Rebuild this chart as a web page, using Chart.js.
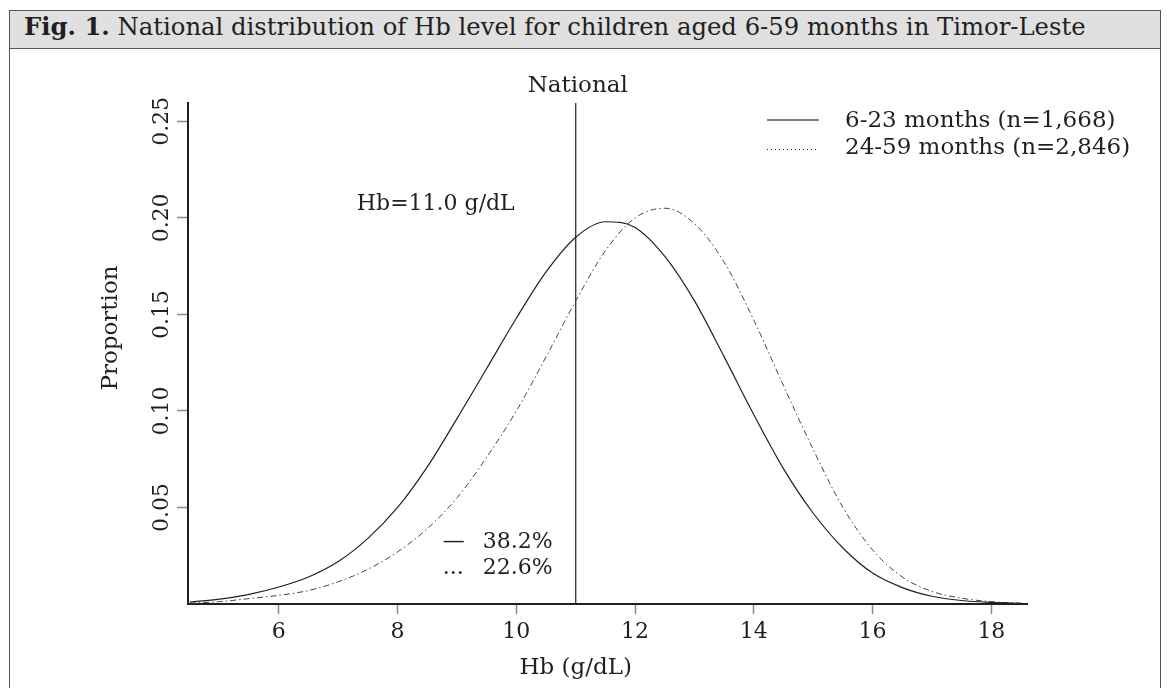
<!DOCTYPE html>
<html>
<head>
<meta charset="utf-8">
<script src="https://cdn.jsdelivr.net/npm/chart.js@4.4.1/dist/chart.umd.min.js"></script>
<style>
  html, body { margin: 0; padding: 0; background: #fff; }
  body { width: 1171px; height: 688px; position: relative; overflow: hidden; }
  #frame {
    position: absolute; left: 9px; top: 10px; width: 1150px; height: 700px;
    border: 1.5px solid #555;
  }
  #caption {
    height: 37px; line-height: 31px; background: #e0e0e0;
    border-bottom: 1.5px solid #555;
    font-family: "DejaVu Serif", serif; font-size: 24.3px; color: #231f20;
    padding-left: 14px; white-space: nowrap;
  }
  #wrap { position: absolute; left: 0; top: 0; width: 1171px; height: 688px; }
</style>
</head>
<body>
<div id="frame">
  <div id="caption"><b>Fig. 1.</b> National distribution of Hb level for children aged 6-59 months in Timor-Leste</div>
</div>
<div id="wrap"><canvas id="hbChart" width="1171" height="688"></canvas></div>
<script>
// --- data ---
const hbLevels = [4.5, 5, 5.5, 6, 6.5, 7, 7.5, 8, 8.5, 9, 9.5, 10, 10.5, 11, 11.5, 12,
                  12.5, 13, 13.5, 14, 14.5, 15, 15.5, 16, 16.5, 17, 17.5, 18, 18.5];
const young = [0.001, 0.0025, 0.005, 0.0088, 0.014, 0.022, 0.034, 0.050, 0.071, 0.096,
               0.122, 0.148, 0.172, 0.190, 0.198, 0.195, 0.180, 0.157, 0.128, 0.098,
               0.070, 0.047, 0.029, 0.016, 0.0085, 0.004, 0.0018, 0.0008, 0.0003];
const older = [0.0004, 0.0012, 0.0028, 0.0045, 0.007, 0.0115, 0.018, 0.027, 0.039, 0.055,
               0.076, 0.100, 0.128, 0.157, 0.183, 0.200, 0.205, 0.197, 0.177, 0.147,
               0.113, 0.080, 0.050, 0.028, 0.014, 0.0065, 0.003, 0.0012, 0.0004];
const seriesLabels = ['6-23 months (n=1,668)', '24-59 months (n=2,846)'];
const belowCutoff = ['38.2%', '22.6%'];
const cutoff = 11;
const xTicks = [6, 8, 10, 12, 14, 16, 18];
const yTicks = [0.05, 0.10, 0.15, 0.20, 0.25];
const xMin = 4.47, xMax = 18.6, yMax = 0.2595;

const INK = '#231f20';
const FONT = '"DejaVu Serif", serif';

function toPoints(ys) {
  return hbLevels.map((v, i) => ({ x: v, y: ys[i] }));
}

// texts and the little legend drawn on top
const figText = {
  id: 'figText',
  afterDraw(chart) {
    const { ctx, chartArea: area, scales: { x, y } } = chart;
    const cx = x.getPixelForValue(cutoff);
    ctx.save();
    ctx.fillStyle = INK;
    ctx.textBaseline = 'alphabetic';

    ctx.font = '23px ' + FONT;
    ctx.textAlign = 'center';
    ctx.fillText('National', cx + 2, area.top - 11);
    ctx.fillText('Hb (g/dL)', cx, area.bottom + 70);

    // y axis title
    ctx.save();
    ctx.translate(117, 328);
    ctx.rotate(-Math.PI / 2);
    ctx.fillText('Proportion', 0, 0);
    ctx.restore();

    // legend
    const lx = area.right - 260;
    ctx.textAlign = 'left';
    ctx.fillText(seriesLabels[0], area.right - 182, 127);
    ctx.fillText(seriesLabels[1], area.right - 182, 154);

    ctx.font = '22px ' + FONT;
    ctx.textAlign = 'right';
    ctx.fillText('Hb=11.0 g/dL', cx - 61, y.getPixelForValue(0.2) - 8);

    ctx.textAlign = 'left';
    ctx.fillText('\u2014', cx - 133, area.bottom - 56);
    ctx.fillText(belowCutoff[0], cx - 93, area.bottom - 56);
    ctx.fillText('...', cx - 133, area.bottom - 30);
    ctx.fillText(belowCutoff[1], cx - 93, area.bottom - 30);

    ctx.strokeStyle = '#808080';
    ctx.lineWidth = 2;
    ctx.beginPath(); ctx.moveTo(lx, 120); ctx.lineTo(lx + 52, 120); ctx.stroke();
    ctx.strokeStyle = INK;
    ctx.lineWidth = 1;
    ctx.setLineDash([1, 3]);
    ctx.beginPath(); ctx.moveTo(lx, 149.5); ctx.lineTo(lx + 52, 149.5); ctx.stroke();
    ctx.restore();
  }
};

new Chart(document.getElementById('hbChart'), {
  type: 'line',
  data: {
    datasets: [
      {
        label: seriesLabels[0],
        data: toPoints(young),
        borderColor: INK,
        borderWidth: 1.2,
        pointRadius: 0,
        cubicInterpolationMode: 'monotone'
      },
      {
        label: seriesLabels[1],
        data: toPoints(older),
        borderColor: '#444',
        borderWidth: 1,
        borderDash: [6, 3, 1.5, 3],
        pointRadius: 0,
        cubicInterpolationMode: 'monotone'
      },
      {
        label: 'cut-off',
        data: [{ x: cutoff, y: 0 }, { x: cutoff, y: yMax }],
        borderColor: INK,
        borderWidth: 1.2,
        pointRadius: 0
      }
    ]
  },
  options: {
    responsive: false,
    animation: false,
    layout: { padding: { top: 103, right: 144, bottom: 0, left: 0 } },
    plugins: { legend: { display: false }, tooltip: { enabled: false } },
    scales: {
      x: {
        type: 'linear',
        min: xMin, max: xMax,
        afterBuildTicks: s => { s.ticks = xTicks.map(v => ({ value: v })); },
        afterFit: s => { s.height = 84; },
        grid: { drawOnChartArea: false, tickLength: 10, tickColor: '#8a8a8a', tickWidth: 1.5 },
        border: { color: INK, width: 2 },
        ticks: { color: INK, font: { family: FONT, size: 22 }, padding: 5, maxRotation: 0 }
      },
      y: {
        type: 'linear',
        min: 0, max: yMax,
        afterBuildTicks: s => { s.ticks = yTicks.map(v => ({ value: v })); },
        afterFit: s => { s.width = 188; },
        grid: { drawOnChartArea: false, tickLength: 11, tickColor: '#8a8a8a', tickWidth: 1.5 },
        border: { color: INK, width: 2 },
        ticks: {
          color: INK, font: { family: FONT, size: 22 },
          minRotation: 90, maxRotation: 90, crossAlign: 'center', padding: -10,
          callback: v => v.toFixed(2)
        }
      }
    }
  },
  plugins: [figText]
});
</script>
</body>
</html>
